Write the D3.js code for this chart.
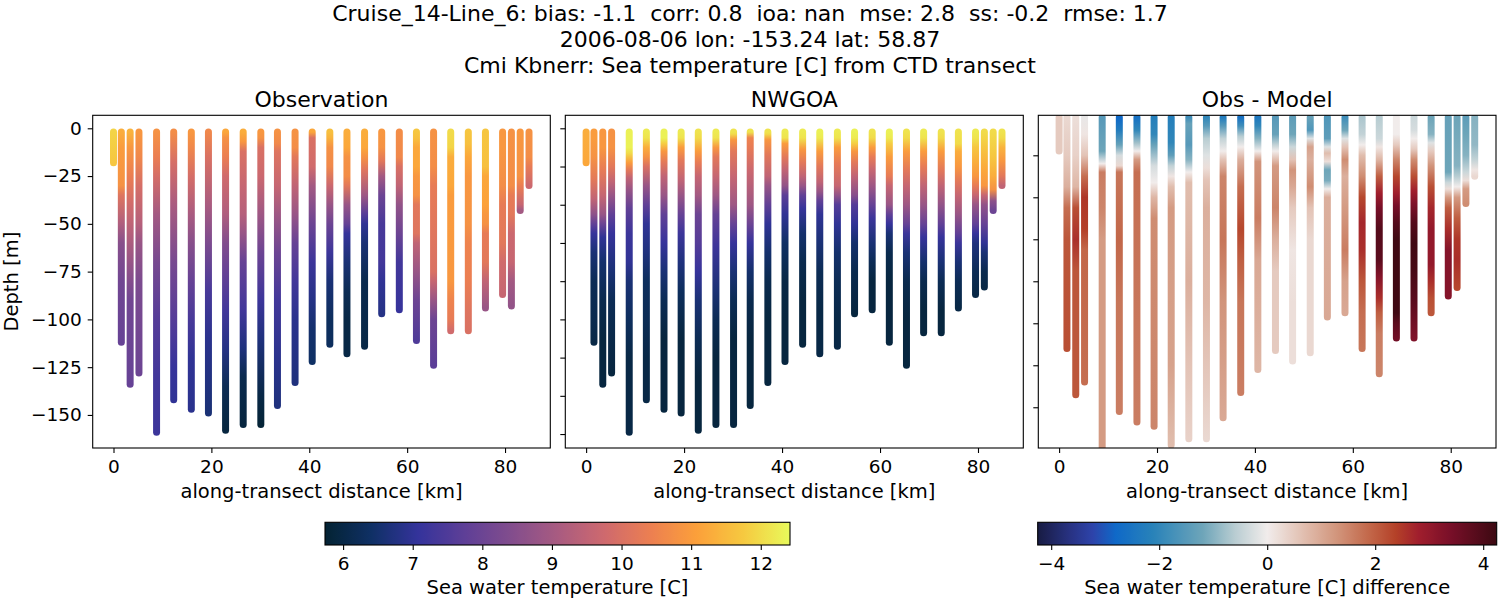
<!DOCTYPE html>
<html><head><meta charset="utf-8">
<script src="https://cdn.jsdelivr.net/npm/d3@7"></script>
<style>body{margin:0;background:#fff}svg{display:block}text{font-family:"DejaVu Sans",sans-serif;fill:#000}</style>
</head><body><svg id="c" width="1500" height="600"></svg>
<script>
// ---------------- data ----------------
const titleLines = [
  "Cruise_14-Line_6: bias: -1.1  corr: 0.8  ioa: nan  mse: 2.8  ss: -0.2  rmse: 1.7",
  "2006-08-06 lon: -153.24 lat: 58.87",
  "Cmi Kbnerr: Sea temperature [C] from CTD transect"
];
const panelTitles = ["Observation", "NWGOA", "Obs - Model"];
const xLabel = "along-transect distance [km]";
const yLabel = "Depth [m]";
const cbarLabels = ["Sea water temperature [C]", "Sea water temperature [C] difference"];

const stationKm = [0, 1.6, 3.4, 5.2, 8.8, 12.3, 15.9, 19.4, 22.9, 26.5, 30.1, 33.5, 37.1, 40.6,
  44.2, 47.7, 51.3, 54.8, 58.4, 61.9, 65.4, 68.9, 72.5, 76.0, 79.5, 81.3, 83.1, 84.9];

// [depth below surface (m), temperature (C)]
const obsProfiles = [
  [[2,11.9],[18,11.7]],
  [[2,11.3],[10,11.0],[30,10.8],[35,10.1],[50,9.2],[60,8.5],[80,8.1],[112,7.9]],
  [[2,11.4],[10,10.9],[25,10.4],[40,9.8],[55,9.3],[75,8.6],[90,8.1],[134,7.9]],
  [[2,10.9],[15,10.6],[30,9.9],[50,9.3],[60,8.8],[80,8.3],[128,8.0]],
  [[2,10.8],[15,10.4],[25,9.9],[45,9.0],[70,8.2],[100,7.6],[130,7.3],[159,7.2]],
  [[2,10.7],[18,9.9],[40,9.1],[70,8.2],[100,7.6],[125,7.1],[142,7.0]],
  [[2,10.9],[10,10.6],[25,9.9],[45,9.1],[60,8.5],[80,7.9],[100,7.4],[120,7.0],[147,6.9]],
  [[2,10.6],[15,10.0],[40,9.1],[60,8.3],[85,7.4],[110,6.9],[149,6.6]],
  [[2,11.2],[5,10.8],[15,10.4],[25,9.8],[45,9.2],[60,8.4],[75,7.9],[95,7.3],[115,6.8],[135,6.2],[158,5.9]],
  [[2,11.3],[7,10.9],[12,10.0],[30,9.6],[45,9.3],[55,8.8],[70,7.9],[95,7.3],[115,6.7],[130,6.1],[155,5.9]],
  [[2,10.9],[5,10.8],[10,10.0],[25,9.7],[45,8.9],[65,8.0],[90,7.2],[110,6.7],[140,6.0],[155,5.8]],
  [[2,10.8],[8,10.6],[12,10.1],[30,9.6],[45,8.9],[65,8.0],[90,7.3],[120,6.9],[145,6.7]],
  [[2,10.8],[10,10.7],[15,10.2],[30,9.5],[45,8.8],[60,7.9],[80,7.3],[100,6.9],[133,6.7]],
  [[2,11.2],[5,10.0],[20,9.8],[30,9.0],[50,8.0],[70,7.2],[90,6.8],[105,6.5],[122,6.4]],
  [[2,11.6],[5,11.4],[10,10.8],[20,10.6],[30,9.7],[40,8.8],[50,8.0],[65,7.2],[80,6.6],[100,6.3],[113,6.3]],
  [[2,11.3],[10,11.2],[15,10.8],[25,10.7],[30,10.2],[40,8.8],[50,7.9],[55,7.1],[70,6.6],[85,6.2],[100,6.0],[118,6.0]],
  [[2,11.3],[10,11.2],[15,10.8],[22,10.1],[35,8.9],[45,7.6],[50,7.0],[60,6.6],[80,6.1],[114,6.0]],
  [[2,10.9],[10,10.8],[17,10.2],[25,9.0],[35,8.0],[50,7.4],[70,7.3],[80,7.0],[97,6.8]],
  [[2,10.7],[15,10.6],[20,10.0],[30,9.5],[40,8.7],[55,8.0],[70,7.3],[95,7.1]],
  [[2,11.7],[5,11.6],[10,11.2],[20,11.2],[25,10.9],[35,10.8],[40,10.2],[55,10.1],[60,9.5],[75,8.8],[90,8.0],[111,7.5]],
  [[2,10.8],[20,10.7],[30,10.3],[60,10.1],[75,10.0],[80,9.6],[90,8.8],[100,8.0],[124,7.7]],
  [[2,12.0],[10,11.9],[15,11.3],[30,11.2],[35,11.0],[80,10.9],[90,10.5],[100,10.3],[106,9.8]],
  [[2,11.7],[8,11.6],[15,11.2],[25,10.9],[50,10.8],[60,10.5],[80,10.4],[95,10.1],[106,10.0]],
  [[2,11.7],[20,11.6],[25,11.2],[40,11.1],[45,10.9],[50,10.8],[55,10.3],[70,10.2],[80,9.5],[94,8.8]],
  [[2,10.9],[10,10.9],[30,10.7],[40,10.3],[60,10.2],[70,9.8],[87,9.6]],
  [[2,10.8],[30,10.7],[35,10.3],[45,10.2],[55,9.7],[70,9.6],[80,9.0],[93,8.7]],
  [[2,10.9],[25,10.8],[30,10.4],[40,9.6],[43,9.0]],
  [[2,10.8],[15,10.7],[20,10.3],[30,9.7]]
];

const modelProfiles = [
  [[2,11.3],[18,11.2]],
  [[2,11.0],[5,11.0],[15,10.8],[27,10.2],[37,9.5],[45,8.6],[50,7.8],[55,7.1],[65,6.6],[80,6.2],[100,6.1],[112,6.0]],
  [[2,10.9],[10,10.9],[22,10.3],[35,9.6],[45,8.8],[50,8.0],[57,7.0],[70,6.5],[90,6.1],[110,5.9],[134,5.9]],
  [[2,10.8],[10,10.8],[20,10.2],[28,9.5],[35,8.8],[45,7.8],[55,7.1],[75,6.6],[90,6.2],[128,5.9]],
  [[2,12.3],[10,12.3],[13,12.0],[18,11.0],[22,10.2],[26,9.5],[32,8.8],[42,7.8],[55,7.2],[70,7.0],[80,6.6],[100,6.3],[120,6.0],[159,6.0]],
  [[2,12.2],[5,12.1],[10,11.3],[15,10.8],[20,10.0],[30,8.8],[40,7.8],[50,7.0],[65,6.7],[80,6.3],[100,6.2],[120,6.0],[142,6.0]],
  [[2,12.3],[5,12.3],[8,11.8],[12,10.9],[18,10.2],[25,9.5],[35,8.8],[45,7.8],[60,7.1],[75,6.6],[90,6.2],[110,5.9],[147,5.9]],
  [[2,12.2],[5,12.1],[10,11.0],[17,10.2],[27,9.5],[35,8.8],[45,7.9],[55,7.2],[70,6.7],[85,6.3],[110,5.9],[149,5.9]],
  [[2,12.1],[5,12.0],[12,11.0],[18,10.3],[25,9.6],[35,9.0],[45,8.0],[60,7.6],[75,7.1],[90,6.6],[110,6.2],[130,5.9],[158,5.9]],
  [[2,12.2],[5,12.1],[10,10.9],[15,10.2],[25,9.6],[35,8.9],[45,7.9],[62,7.2],[85,6.6],[100,6.2],[120,5.9],[155,5.9]],
  [[2,12.1],[3,12.0],[6,10.9],[12,10.2],[25,9.6],[40,8.9],[50,7.9],[60,7.1],[75,6.6],[90,6.2],[110,5.9],[155,5.9]],
  [[2,12.1],[5,10.5],[10,10.3],[22,9.7],[40,8.9],[50,8.0],[60,7.1],[75,6.5],[90,6.1],[110,5.9],[145,5.9]],
  [[2,12.1],[3,12.0],[6,10.9],[14,10.2],[25,9.5],[30,8.8],[40,7.8],[50,7.0],[65,6.5],[80,6.1],[100,5.9],[133,5.9]],
  [[2,12.2],[5,12.1],[8,11.0],[15,10.2],[22,9.5],[30,8.7],[35,7.7],[45,7.0],[60,6.4],[80,6.0],[100,5.9],[122,5.9]],
  [[2,12.2],[5,12.1],[11,10.9],[18,10.2],[25,9.5],[30,8.8],[35,7.8],[42,7.1],[55,6.5],[70,6.1],[90,5.9],[113,5.9]],
  [[2,12.3],[5,12.2],[12,11.0],[20,10.2],[28,9.5],[33,8.8],[38,7.8],[45,7.0],[60,6.6],[75,6.2],[95,6.0],[118,6.0]],
  [[2,12.2],[5,12.1],[10,11.0],[18,10.3],[30,9.6],[35,8.7],[40,7.6],[50,7.0],[65,6.5],[80,6.2],[100,6.0],[114,6.0]],
  [[2,12.3],[5,12.2],[8,11.8],[12,10.9],[18,10.2],[25,9.5],[35,8.5],[40,7.6],[50,7.0],[60,6.5],[75,6.1],[97,5.9]],
  [[2,12.1],[5,12.0],[10,11.0],[15,10.3],[22,9.6],[30,8.9],[40,7.9],[47,7.2],[60,6.6],[70,6.2],[80,5.9],[95,5.9]],
  [[2,12.3],[5,12.2],[8,11.8],[15,11.0],[25,10.3],[30,9.6],[40,8.8],[45,7.8],[50,7.1],[55,6.6],[65,6.1],[80,5.9],[112,5.9]],
  [[2,12.1],[5,12.0],[12,11.0],[22,10.2],[30,9.6],[40,8.9],[50,7.9],[55,7.2],[65,6.6],[80,6.1],[100,5.9],[124,5.9]],
  [[2,12.2],[5,12.1],[12,11.0],[20,10.3],[30,9.5],[40,8.8],[50,7.9],[57,7.1],[70,6.5],[80,6.1],[95,5.9],[107,5.9]],
  [[2,12.1],[5,12.0],[12,11.0],[22,10.2],[30,9.5],[40,8.7],[50,7.8],[57,7.1],[70,6.6],[80,6.2],[95,5.9],[107,5.9]],
  [[2,12.1],[8,12.0],[12,11.3],[20,10.9],[28,10.2],[35,9.6],[45,8.8],[55,7.8],[60,7.2],[70,6.6],[80,6.2],[94,6.0]],
  [[2,12.2],[5,12.1],[10,11.7],[18,11.3],[25,10.9],[30,10.3],[35,9.6],[40,8.8],[50,7.8],[55,7.1],[60,6.7],[75,6.2],[87,6.0]],
  [[2,12.0],[5,11.9],[12,11.6],[22,11.2],[30,10.9],[35,9.6],[40,8.7],[50,7.9],[60,7.0],[65,6.6],[75,6.1],[83,6.0]],
  [[2,12.0],[15,11.7],[25,11.3],[32,10.8],[38,8.6],[43,8.0]],
  [[2,12.1],[5,12.0],[10,11.4],[17,10.9],[25,10.2],[30,9.5]]
];

// [depth below surface (m), obs - model (C)]
const diffProfiles = [
  [[2,0.5],[18,0.5]],
  [[2,0.3],[20,0.5],[35,0.9],[45,1.8],[60,2.1],[112,2.2]],
  [[2,0.2],[20,0.4],[35,0.8],[45,2.2],[60,2.6],[75,2.1],[134,2.1]],
  [[2,-0.1],[10,0.1],[20,0.6],[30,1.8],[40,2.5],[55,2.4],[65,1.9],[128,1.8]],
  [[2,-1.5],[18,-1.2],[24,0],[28,1.6],[45,1.5],[60,1.2],[159,1.2]],
  [[2,-2.8],[8,-2.3],[15,-1.3],[20,-0.3],[25,0.3],[28,1.7],[60,1.9],[90,1.7],[142,1.6]],
  [[2,-2.6],[8,-2.0],[14,-0.8],[18,0],[22,1.2],[28,1.8],[147,1.6]],
  [[2,-2.2],[10,-2.0],[15,-1.3],[25,-0.3],[33,0],[40,0.8],[50,1.4],[149,1.5]],
  [[2,-2.2],[14,-2.0],[20,-1.4],[25,-0.5],[30,0.1],[35,0.7],[45,1.2],[120,1.1],[158,0.7]],
  [[2,-1.8],[5,-1.3],[15,-1.5],[22,-1.0],[28,0],[33,0.7],[80,0.9],[120,0.6],[155,0.4]],
  [[2,-2.0],[6,-1.5],[12,-0.6],[20,-0.2],[26,0.2],[32,0.6],[45,0.9],[90,0.8],[130,0.5],[155,0.3]],
  [[2,-2.3],[6,-1.5],[12,-0.5],[18,0],[22,0.6],[30,1.5],[60,1.7],[90,1.3],[145,1.0]],
  [[2,-2.6],[6,-1.8],[11,-0.6],[16,0],[22,0.9],[35,1.8],[55,2.3],[70,2.0],[90,1.7],[133,1.6]],
  [[2,-2.4],[6,-2.0],[12,-1.0],[18,0],[23,1.3],[50,1.6],[70,1.0],[122,0.8]],
  [[2,-1.5],[10,-1.3],[15,-0.5],[18,0],[25,1.2],[45,1.5],[60,0.9],[75,0.5],[113,0.5]],
  [[2,-1.4],[10,-1.2],[16,-0.4],[22,0.6],[27,1.3],[35,1.0],[45,0.5],[65,0.1],[90,0.2],[118,0.2]],
  [[2,-1.3],[8,-1.6],[12,-0.2],[16,1.1],[22,0.9],[35,1.4],[45,0.6],[60,0.3],[114,0.3]],
  [[2,-1.6],[12,-1.4],[16,-0.2],[19,0.7],[23,0.2],[27,-1.2],[32,-1.1],[36,0],[40,0.9],[97,1.0]],
  [[2,-1.8],[8,-1.2],[12,-0.2],[16,0.6],[22,1.4],[30,0.9],[45,1.2],[65,1.6],[80,1.1],[95,1.0]],
  [[2,-0.7],[10,-0.5],[15,0],[20,0.7],[30,1.4],[40,2.3],[52,2.7],[65,2.6],[80,2.1],[95,1.8],[112,1.7]],
  [[2,-0.6],[12,-0.4],[16,0.1],[22,0.8],[30,2.0],[38,2.8],[45,3.4],[55,3.9],[70,3.8],[78,3.2],[88,2.6],[95,2.0],[105,1.6],[124,1.5]],
  [[2,0],[10,0],[15,0.5],[22,1.5],[30,2.3],[38,2.8],[44,3.4],[52,3.9],[60,4.2],[95,4.2],[100,3.8],[107,3.5]],
  [[2,-0.4],[8,-0.3],[12,0],[17,0.5],[22,1.4],[30,2.2],[37,2.8],[43,3.3],[52,3.9],[62,4.2],[75,4.1],[90,3.8],[107,3.3]],
  [[2,-1.2],[10,-1.0],[14,-0.2],[18,0.5],[25,1.3],[35,2.2],[45,2.7],[55,3.0],[72,3.0],[80,2.6],[88,2.2],[95,2.1]],
  [[2,-1.3],[28,-1.2],[33,-0.4],[36,0.2],[40,1.2],[45,2.0],[55,2.6],[65,3.2],[87,3.2]],
  [[2,-1.2],[25,-1.0],[30,-0.6],[35,0],[40,1.2],[50,2.0],[60,2.5],[70,2.6],[83,2.3]],
  [[2,-1.4],[10,-1.2],[20,-1.0],[28,-0.4],[32,0.2],[36,1.2],[43,1.4]],
  [[2,-1.0],[15,-0.9],[22,-0.5],[27,0.1],[30,0.3]]
];

const xTicks = [0, 20, 40, 60, 80];
const obsDepthTicks = [0, -25, -50, -75, -100, -125, -150];
const modelDepthTicks = [0, -20, -40, -60, -80, -100, -120, -140, -160];
const diffDepthTicks = [-20, -40, -60, -80, -100, -120, -140];
const tempTicks = [6, 7, 8, 9, 10, 11, 12];
const diffTicks = [-4, -2, 0, 2, 4];
const tempRange = [5.74, 12.42];
const diffRange = [-4.25, 4.25];

// ---------------- colormaps (style) ----------------
const thermalColors = ["#042333","#0f3065","#34339b","#5e3f97","#824d8d","#a85b81","#ce696e","#ec7f51","#fca03a","#f6c940","#e8fa5b"];
const balanceColors = [
  [0.00,"#181c43"],[0.07,"#283282"],[0.12,"#2d43aa"],[0.17,"#0f69c8"],[0.25,"#2882b9"],
  [0.36,"#6ea5b9"],[0.43,"#b9cdd2"],[0.50,"#f1eceb"],[0.58,"#e1beaf"],[0.65,"#d2967d"],
  [0.72,"#c3694b"],[0.78,"#b44128"],[0.83,"#a01e2d"],[0.90,"#780f28"],[1.00,"#3c0912"]
];
const thermal = d3.scaleLinear()
  .domain(thermalColors.map((c, i) => tempRange[0] + (tempRange[1] - tempRange[0]) * i / (thermalColors.length - 1)))
  .range(thermalColors).interpolate(d3.interpolateRgb).clamp(true);
const balance = d3.scaleLinear()
  .domain(balanceColors.map(s => diffRange[0] + (diffRange[1] - diffRange[0]) * s[0]))
  .range(balanceColors.map(s => s[1])).interpolate(d3.interpolateRgb).clamp(true);

// ---------------- drawing ----------------
const svg = d3.select("#c");
const defs = svg.append("defs");
const FS_TICK = 18.5, FS_LABEL = 19.5, FS_TITLE = 22;
const plotTop = 115.3, plotBot = 448;

svg.selectAll("text.sup").data(titleLines).enter().append("text")
  .attr("x", 750).attr("y", (d, i) => 21 + i * 26)
  .attr("text-anchor", "middle").style("white-space", "pre").attr("xml:space", "preserve")
  .style("font-size", FS_TITLE + "px").text(d => d);

function styleAxis(g) {
  g.select(".domain").remove();
  g.selectAll(".tick line").attr("stroke", "#000").attr("stroke-width", 1.1);
  g.selectAll(".tick text").style("font-size", FS_TICK + "px").style("font-family", "DejaVu Sans");
}

function drawPanel(p) {
  const x = d3.scaleLinear().domain([-4.25, 89.25]).range([p.x0, p.x1]);
  const y = d3.scaleLinear().domain(p.ydom).range([plotBot, plotTop]);
  const g = svg.append("g");
  const clipId = "clip" + p.id;
  defs.append("clipPath").attr("id", clipId).append("rect")
    .attr("x", p.x0).attr("y", plotTop).attr("width", p.x1 - p.x0).attr("height", plotBot - plotTop);
  const bars = g.append("g").attr("clip-path", `url(#${clipId})`);
  p.profiles.forEach((prof, i) => {
    const y1 = y(-prof[0][0]), y2 = y(-prof[prof.length - 1][0]);
    const gid = `g${p.id}_${i}`;
    const grad = defs.append("linearGradient").attr("id", gid)
      .attr("gradientUnits", "userSpaceOnUse")
      .attr("x1", 0).attr("x2", 0).attr("y1", y1).attr("y2", y2);
    prof.forEach(s => {
      grad.append("stop").attr("offset", (y(-s[0]) - y1) / (y2 - y1)).attr("stop-color", p.cmap(s[1]));
    });
    bars.append("line")
      .attr("x1", x(stationKm[i])).attr("x2", x(stationKm[i]))
      .attr("y1", y1).attr("y2", y2)
      .attr("stroke", `url(#${gid})`).attr("stroke-width", 7).attr("stroke-linecap", "round");
  });
  const ax = g.append("g").attr("transform", `translate(0,${plotBot})`)
    .call(d3.axisBottom(x).tickValues(xTicks).tickSize(5).tickPadding(7));
  styleAxis(ax);
  const ay = g.append("g").attr("transform", `translate(${p.x0},0)`)
    .call(d3.axisLeft(y).tickValues(p.yticks).tickSize(5).tickPadding(6)
      .tickFormat(p.ylabels ? d3.format("d") : () => ""));
  styleAxis(ay);
  g.append("rect").attr("x", p.x0).attr("y", plotTop).attr("width", p.x1 - p.x0).attr("height", plotBot - plotTop)
    .attr("fill", "none").attr("stroke", "#000").attr("stroke-width", 1.1);
  g.append("text").attr("x", (p.x0 + p.x1) / 2).attr("y", 107).attr("text-anchor", "middle")
    .style("font-size", FS_TITLE + "px").text(p.title);
  g.append("text").attr("x", (p.x0 + p.x1) / 2).attr("y", 498).attr("text-anchor", "middle")
    .style("font-size", FS_LABEL + "px").text(xLabel);
}

drawPanel({id: 0, x0: 92.7, x1: 550.3, ydom: [-167.3, 6.8], profiles: obsProfiles, cmap: thermal,
  yticks: obsDepthTicks, ylabels: true, title: panelTitles[0]});
drawPanel({id: 1, x0: 565.3, x1: 1023.3, ydom: [-167.3, 6.8], profiles: modelProfiles, cmap: thermal,
  yticks: modelDepthTicks, ylabels: false, title: panelTitles[1]});
drawPanel({id: 2, x0: 1038.3, x1: 1496, ydom: [-159.4, -0.95], profiles: diffProfiles, cmap: balance,
  yticks: diffDepthTicks, ylabels: false, title: panelTitles[2]});

svg.append("text").attr("transform", `translate(18,${(plotTop + plotBot) / 2}) rotate(-90)`)
  .attr("text-anchor", "middle").style("font-size", FS_LABEL + "px").text(yLabel);

function drawColorbar(c) {
  const s = d3.scaleLinear().domain(c.range).range([c.x0, c.x1]);
  const gid = "cb" + c.id;
  const grad = defs.append("linearGradient").attr("id", gid).attr("x1", 0).attr("x2", 1).attr("y1", 0).attr("y2", 0);
  d3.range(0, 101).forEach(k => {
    const v = c.range[0] + (c.range[1] - c.range[0]) * k / 100;
    grad.append("stop").attr("offset", k / 100).attr("stop-color", c.cmap(v));
  });
  const g = svg.append("g");
  g.append("rect").attr("x", c.x0).attr("y", 522.3).attr("width", c.x1 - c.x0).attr("height", 22.7)
    .attr("fill", `url(#${gid})`).attr("stroke", "#000").attr("stroke-width", 1.1);
  const ax = g.append("g").attr("transform", "translate(0,545)")
    .call(d3.axisBottom(s).tickValues(c.ticks).tickSize(5).tickPadding(7).tickFormat(d3.format("d")));
  styleAxis(ax);
  g.append("text").attr("x", (c.x0 + c.x1) / 2).attr("y", 594).attr("text-anchor", "middle")
    .style("font-size", FS_LABEL + "px").text(c.label);
}
drawColorbar({id: 0, x0: 325, x1: 790, range: tempRange, cmap: thermal, ticks: tempTicks, label: cbarLabels[0]});
drawColorbar({id: 1, x0: 1037.7, x1: 1496.7, range: diffRange, cmap: balance, ticks: diffTicks, label: cbarLabels[1]});
</script></body></html>
